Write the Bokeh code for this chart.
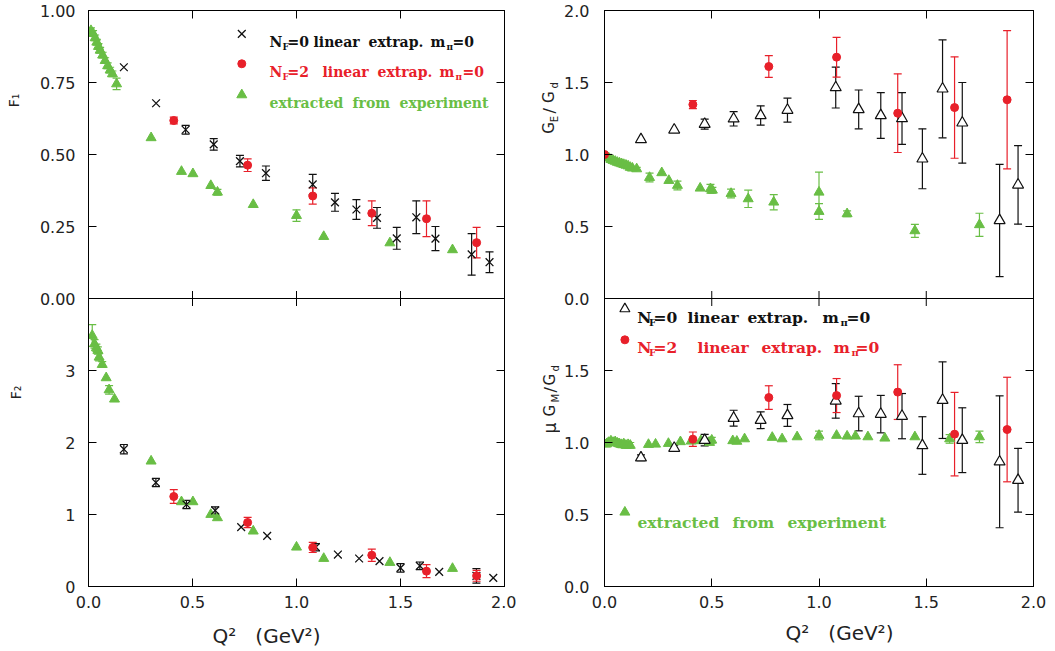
import math
from bokeh.plotting import figure
from bokeh.models import (Range1d, LinearAxis, FixedTicker, Whisker, TeeHead,
                          ColumnDataSource, Label, Span)
from bokeh.layouts import row, column
from bokeh.embed import file_html
from bokeh.resources import INLINE

# ---------------- data ----------------
xticks = [0.0, 0.5, 1.0, 1.5, 2.0]
xtick_labels = ["0.0", "0.5", "1.0", "1.5", "2.0"]
f1_ticks = [0.0, 0.25, 0.5, 0.75, 1.0]
f1_tick_labels = ["0.00", "0.25", "0.50", "0.75", "1.00"]
f2_ticks = [0, 1, 2, 3]
f2_tick_labels = ["0", "1", "2", "3"]
g_ticks = [0.0, 0.5, 1.0, 1.5, 2.0]
g_tick_labels = ["0.0", "0.5", "1.0", "1.5", "2.0"]

# N_F=0 linear extrapolation (lattice, quenched)
q2_nf0 = [0.170, 0.325, 0.467, 0.602, 0.728, 0.853, 1.078, 1.185, 1.288, 1.387, 1.482, 1.576, 1.668, 1.842, 1.928]
f1_nf0 = [0.803, 0.678, 0.586, 0.535, 0.477, 0.435, 0.396, 0.334, 0.309, 0.280, 0.209, 0.282, 0.208, 0.153, 0.126]
f1_nf0_err = [0.0, 0.0, 0.015, 0.02, 0.02, 0.025, 0.035, 0.031, 0.034, 0.036, 0.038, 0.057, 0.042, 0.072, 0.036]
q2_nf0_f2 = [0.170, 0.324, 0.471, 0.609, 0.734, 0.859, 1.093, 1.199, 1.301, 1.399, 1.500, 1.593, 1.686, 1.865, 1.946]
f2_nf0 = [1.907, 1.444, 1.139, 1.056, 0.824, 0.704, 0.546, 0.444, 0.389, 0.352, 0.259, 0.287, 0.204, 0.148, 0.120]
f2_nf0_err = [0.065, 0.058, 0.058, 0.05, 0.0, 0.0, 0.05, 0.0, 0.0, 0.0, 0.058, 0.053, 0.0, 0.1, 0.0]
ge_nf0 = [1.104, 1.171, 1.211, 1.248, 1.271, 1.308, 1.465, 1.313, 1.271, 1.250, 0.970, 1.456, 1.220, 0.542, 0.789]
ge_nf0_err = [0.0, 0.0, 0.035, 0.05, 0.067, 0.083, 0.142, 0.135, 0.159, 0.18, 0.208, 0.34, 0.28, 0.39, 0.273]
gm_nf0 = [0.894, 0.961, 1.016, 1.169, 1.155, 1.188, 1.289, 1.201, 1.197, 1.183, 0.979, 1.294, 1.016, 0.866, 0.738]
gm_nf0_err = [0.02, 0.02, 0.04, 0.055, 0.058, 0.076, 0.12, 0.12, 0.13, 0.157, 0.2, 0.266, 0.225, 0.458, 0.221]

# N_F=2 linear extrapolation (lattice, dynamical)
q2_nf2 = [0.410, 0.765, 1.078, 1.362, 1.625, 1.866]
f1_nf2 = [0.618, 0.463, 0.356, 0.296, 0.277, 0.194]
f1_nf2_err = [0.012, 0.022, 0.028, 0.043, 0.062, 0.053]
f2_nf2 = [1.250, 0.889, 0.542, 0.435, 0.213, 0.148]
f2_nf2_err = [0.095, 0.07, 0.07, 0.085, 0.09, 0.075]
q2_nf2_ge = [0.0, 0.412, 0.766, 1.082, 1.367, 1.632, 1.877]
ge_nf2 = [1.0, 1.347, 1.611, 1.676, 1.287, 1.326, 1.380]
ge_nf2_err = [0.0, 0.028, 0.076, 0.138, 0.273, 0.352, 0.48]
q2_nf2_gm = [0.412, 0.766, 1.082, 1.367, 1.632, 1.877]
gm_nf2 = [1.023, 1.312, 1.326, 1.350, 1.058, 1.090]
gm_nf2_err = [0.05, 0.082, 0.118, 0.19, 0.29, 0.363]

# extracted from experiment
q2_exp_f1 = [0.012, 0.022, 0.032, 0.040, 0.048, 0.056, 0.068, 0.080, 0.092, 0.104, 0.115, 0.135,
             0.301, 0.447, 0.502, 0.588, 0.620, 0.792, 1.0, 1.131, 1.449, 1.75]
f1_exp = [0.930, 0.920, 0.905, 0.890, 0.875, 0.862, 0.845, 0.826, 0.808, 0.793, 0.780, 0.745,
          0.558, 0.441, 0.433, 0.392, 0.369, 0.326, 0.288, 0.215, 0.193, 0.169]
f1_exp_err = [0.01, 0.01, 0.01, 0.01, 0.01, 0.01, 0.01, 0.01, 0.01, 0.01, 0.01, 0.02,
              0.0, 0.0, 0.0, 0.0, 0.01, 0.0, 0.02, 0.0, 0.0, 0.0]
q2_exp_f2 = [0.018, 0.029, 0.038, 0.045, 0.051, 0.066, 0.085, 0.099, 0.125,
             0.301, 0.447, 0.502, 0.588, 0.620, 0.792, 1.0, 1.131, 1.449, 1.75]
f2_exp = [3.486, 3.370, 3.315, 3.278, 3.185, 3.083, 2.898, 2.731, 2.602,
          1.741, 1.176, 1.176, 1.000, 0.954, 0.769, 0.546, 0.389, 0.333, 0.250]
f2_exp_err = [0.15, 0.06, 0.05, 0.05, 0.05, 0.04, 0.0, 0.06, 0.0,
              0.0, 0.0, 0.0, 0.0, 0.0, 0.0, 0.0, 0.0, 0.0, 0.0]
q2_exp_ge = [0.01, 0.02, 0.03, 0.04, 0.05, 0.06, 0.07, 0.08, 0.09, 0.10, 0.11, 0.12, 0.13, 0.15,
             0.21, 0.267, 0.30, 0.34, 0.446, 0.494, 0.503, 0.59, 0.67, 0.789, 1.0, 1.0, 1.131, 1.447, 1.748]
ge_exp = [0.985, 0.975, 0.965, 0.958, 0.952, 0.945, 0.940, 0.935, 0.930, 0.925, 0.920, 0.910, 0.905, 0.900,
          0.840, 0.873, 0.819, 0.785, 0.766, 0.762, 0.752, 0.729, 0.692, 0.669, 0.738, 0.604, 0.588, 0.470, 0.512]
ge_exp_err = [0.01, 0.01, 0.01, 0.01, 0.01, 0.01, 0.01, 0.01, 0.01, 0.01, 0.01, 0.01, 0.01, 0.01,
              0.03, 0.0, 0.0, 0.03, 0.0, 0.03, 0.02, 0.03, 0.06, 0.053, 0.14, 0.055, 0.02, 0.045, 0.08]
q2_exp_gm = [0.01, 0.02, 0.03, 0.04, 0.05, 0.06, 0.07, 0.08, 0.09, 0.10, 0.11, 0.12,
             0.205, 0.238, 0.298, 0.354, 0.404, 0.449, 0.49, 0.50, 0.598, 0.617, 0.653,
             0.782, 0.828, 0.898, 1.0, 1.082, 1.131, 1.17, 1.228, 1.307, 1.447, 1.609, 1.748]
gm_exp = [0.990, 1.000, 1.010, 1.000, 1.005, 0.995, 0.990, 0.985, 0.990, 0.980, 0.985, 0.980,
          0.986, 0.988, 0.993, 1.005, 1.009, 1.012, 1.000, 1.016, 1.012, 1.008, 1.025,
          1.035, 1.025, 1.039, 1.049, 1.049, 1.044, 1.044, 1.039, 1.030, 1.039, 1.025, 1.039]
gm_exp_err = [0.02, 0.02, 0.02, 0.02, 0.02, 0.02, 0.02, 0.02, 0.02, 0.02, 0.02, 0.02,
              0.0, 0.0, 0.0, 0.0, 0.0, 0.0, 0.0, 0.02, 0.0, 0.0, 0.0,
              0.0, 0.0, 0.0, 0.03, 0.0, 0.0, 0.0, 0.0, 0.0, 0.0, 0.03, 0.04]

# ---------------- style / layout ----------------
RED = "#E8202A"
GREEN = "#69BE45"
BLACK = "#111111"
TXT = "#222222"
FRAME_H = 576
TOP_B, BOT_B = 10, 30
ROW_H = TOP_B + FRAME_H + BOT_B      # 616
FRAME_BOTTOM = TOP_B + FRAME_H       # page y of the frames' bottom edge (586)
STRIP_H = 34


def panel_figure(frame_w, left_b, right_b, y_end, extra):
    p = figure(width=left_b + frame_w + right_b, height=ROW_H,
               x_range=Range1d(0, 2), y_range=Range1d(0, y_end),
               x_axis_location=None, y_axis_location=None,
               output_backend="svg", toolbar_location=None,
               min_border_left=left_b, min_border_right=right_b,
               min_border_top=TOP_B, min_border_bottom=BOT_B)
    p.extra_y_ranges = extra
    p.outline_line_color = "black"
    p.outline_line_width = 1
    p.grid.visible = False
    return p


def text_figure(w, h, top=0, bottom=0):
    f = figure(width=w, height=h, x_range=Range1d(0, 1), y_range=Range1d(0, 1),
               x_axis_location=None, y_axis_location=None,
               output_backend="svg", toolbar_location=None,
               min_border_left=0, min_border_right=0, min_border_top=top, min_border_bottom=bottom)
    f.outline_line_color = None
    f.grid.visible = False
    return f


def add_axes(p, ypos, ylabels, standoff):
    yt = FixedTicker(ticks=ypos)
    xt = FixedTicker(ticks=xticks)
    left = LinearAxis(ticker=yt, major_label_overrides=dict(zip(ypos, ylabels)))
    right = LinearAxis(ticker=yt)
    below = LinearAxis(ticker=xt, major_label_overrides=dict(zip(xticks, xtick_labels)))
    above = LinearAxis(ticker=xt)
    for ax in (left, right, below, above):
        ax.major_tick_in = 8
        ax.major_tick_out = 0
        ax.minor_tick_in = 0
        ax.minor_tick_out = 0
        ax.axis_line_color = "black"
        ax.major_tick_line_color = "black"
        ax.major_label_text_font = "DejaVu Sans"
        ax.major_label_text_font_size = "16px"
        ax.major_label_text_color = TXT
    for ax in (right, above):
        ax.major_label_text_font_size = "0px"
        ax.major_label_text_color = None
        ax.major_label_standoff = 0
    left.major_label_standoff = standoff
    below.major_label_standoff = 9
    p.add_layout(left, "left")
    p.add_layout(right, "right")
    p.add_layout(below, "below")
    p.add_layout(above, "above")


def boundary(p, yb):
    p.add_layout(Span(location=yb, dimension="width", line_color="black", line_width=1))
    inner = xticks[1:-1]
    p.scatter(x=inner, y=[yb] * len(inner), marker="dash", angle=math.pi / 2, size=15,
              line_color="black", line_width=1)


def errors(p, q, v, e, color, rng):
    xs, lo, hi = [], [], []
    for a, b, c in zip(q, v, e):
        if c > 0:
            xs.append(a); lo.append(b - c); hi.append(b + c)
    src = ColumnDataSource(dict(x=xs, lower=lo, upper=hi))
    w = Whisker(source=src, base="x", lower="lower", upper="upper", dimension="height",
                line_color=color, line_width=1.2, y_range_name=rng,
                upper_head=TeeHead(size=8, line_color=color, line_width=1.2),
                lower_head=TeeHead(size=8, line_color=color, line_width=1.2))
    p.add_layout(w)


def series(p, q, v, e, kind, rng):
    if kind == "exp":
        errors(p, q, v, e, GREEN, rng)
        p.scatter(q, v, marker="triangle", size=10, fill_color=GREEN, line_color=GREEN, y_range_name=rng)
    elif kind == "x":
        errors(p, q, v, e, BLACK, rng)
        p.scatter(q, v, marker="x", size=11, line_color=BLACK, line_width=1.3, y_range_name=rng)
    elif kind == "tri":
        errors(p, q, v, e, BLACK, rng)
        p.scatter(q, v, marker="triangle", size=11, fill_color="white", line_color=BLACK,
                  line_width=1.2, y_range_name=rng)
    else:
        errors(p, q, v, e, RED, rng)
        p.scatter(q, v, marker="circle", size=8, fill_color=RED, line_color=RED, y_range_name=rng)


def lab(p, text, sx, sy, size, color, font="DejaVu Serif", style="bold", angle=0.0,
        align="left", baseline="alphabetic"):
    p.add_layout(Label(x=sx, y=sy, x_units="screen", y_units="screen", text=text,
                       text_font=font, text_font_size=size, text_font_style=style,
                       text_color=color, angle=angle, text_align=align, text_baseline=baseline))


def rich(p, pieces, x0, sy, size, subsize, drop, color):
    for text, rx, sub in pieces:
        lab(p, text, rx - x0, sy - drop if sub else sy, subsize if sub else size, color)


# ---------------- left column: F1 (top), F2 (bottom) ----------------
pl = panel_figure(416, 52, 12, 2, {"f1": Range1d(-1, 1), "f2": Range1d(0, 8)})
add_axes(pl, [t / 4 for t in f2_ticks] + [1 + t for t in f1_ticks],
         f2_tick_labels + f1_tick_labels, 13)
boundary(pl, 1.0)

series(pl, q2_exp_f1, f1_exp, f1_exp_err, "exp", "f1")
series(pl, q2_nf0, f1_nf0, f1_nf0_err, "x", "f1")
series(pl, q2_nf2, f1_nf2, f1_nf2_err, "red", "f1")
series(pl, q2_exp_f2, f2_exp, f2_exp_err, "exp", "f2")
series(pl, q2_nf0_f2, f2_nf0, f2_nf0_err, "x", "f2")
series(pl, q2_nf2, f2_nf2, f2_nf2_err, "red", "f2")

# legend (top-left panel)
pl.scatter([0.737], [1.919], marker="x", size=11, line_color=BLACK, line_width=1.3)
pl.scatter([0.737], [1.815], marker="circle", size=8, fill_color=RED, line_color=RED)
pl.scatter([0.737], [1.707], marker="triangle", size=10, fill_color=GREEN, line_color=GREEN)
rich(pl, [("N", 269, 0), ("F", 282, 1), ("=0", 287, 0), ("linear", 313, 0), ("extrap.", 368, 0),
          ("m", 430, 0), ("π", 446, 1), ("=0", 452, 0)], 88, 544.3, "14px", "9px", 5, BLACK)
rich(pl, [("N", 269, 0), ("F", 282, 1), ("=2", 287, 0), ("linear", 322, 0), ("extrap.", 377, 0),
          ("m", 439, 0), ("π", 455, 1), ("=0", 462, 0)], 88, 514.3, "14px", "9px", 5, RED)
rich(pl, [("extracted", 269, 0), ("from", 352, 0), ("experiment", 399, 0)], 88, 483.3,
     "14px", "9px", 5, GREEN)

# ---------------- right column: GE/Gd (top), mu GM/Gd (bottom) ----------------
pr = panel_figure(429, 44, 16, 4, {"ge": Range1d(-2, 2), "gm": Range1d(0, 4)})
add_axes(pr, [t for t in g_ticks if t < 2] + [2 + t for t in g_ticks],
         [l for t, l in zip(g_ticks, g_tick_labels) if t < 2] + g_tick_labels, 15)
boundary(pr, 2.0)

series(pr, q2_exp_ge, ge_exp, ge_exp_err, "exp", "ge")
series(pr, q2_nf0, ge_nf0, ge_nf0_err, "tri", "ge")
series(pr, q2_nf2_ge, ge_nf2, ge_nf2_err, "red", "ge")
series(pr, q2_exp_gm, gm_exp, gm_exp_err, "exp", "gm")
series(pr, q2_nf0, gm_nf0, gm_nf0_err, "tri", "gm")
series(pr, q2_nf2_gm, gm_nf2, gm_nf2_err, "red", "gm")

# legend (bottom-right panel)
pr.scatter([0.095], [1.928], marker="triangle", size=10, fill_color="white", line_color=BLACK, line_width=1.2)
pr.scatter([0.095], [1.713], marker="circle", size=8, fill_color=RED, line_color=RED)
pr.scatter([0.095], [0.516], marker="triangle", size=10, fill_color=GREEN, line_color=GREEN)
rich(pr, [("N", 636.7, 0), ("F", 648.5, 1), ("=0", 653, 0), ("linear", 687, 0), ("extrap.", 747, 0),
          ("m", 822, 0), ("π", 840, 1), ("=0", 846, 0)], 604, 269.3, "15.5px", "10px", 5, BLACK)
rich(pr, [("N", 636.7, 0), ("F", 648.5, 1), ("=2", 653, 0), ("linear", 697, 0), ("extrap.", 761, 0),
          ("m", 833, 0), ("π", 851, 1), ("=0", 855, 0)], 604, 238.7, "15.5px", "10px", 5, RED)
rich(pr, [("extracted", 637, 0), ("from", 732, 0), ("experiment", 787, 0)], 604, 64.3,
     "15.5px", "10px", 5, GREEN)

# ---------------- axis titles (in narrow text-only figures) ----------------
R90 = math.pi / 2
tl = text_figure(36, ROW_H, TOP_B, BOT_B)          # page x 0..36
lab(tl, "F₁", 13, FRAME_BOTTOM - 100, "14px", TXT, font="DejaVu Sans", style="normal",
    angle=R90, align="center", baseline="middle")
lab(tl, "F₂", 15, FRAME_BOTTOM - 392, "14px", TXT, font="DejaVu Sans", style="normal",
    angle=R90, align="center", baseline="middle")

tm = text_figure(44, ROW_H, TOP_B, BOT_B)          # page x 516..560
X0 = 516
for text, y, sub, size in [("G", 133.3, 0, "15px"), ("E", 121.7, 1, "10px"), ("/", 113.0, 0, "16px"),
                           ("G", 102.5, 0, "15px"), ("d", 88.0, 1, "10px")]:
    lab(tm, text, 548.5 - X0 + (5 if sub else 0), FRAME_BOTTOM - y, size, TXT,
        font="DejaVu Sans", style="normal", angle=R90)
for text, y, sub, size in [("μ", 433.0, 0, "17px"), ("G", 416.0, 0, "15px"), ("M", 402.0, 1, "10px"),
                           ("/", 392.0, 0, "16px"), ("G", 385.0, 0, "15px"), ("d", 371.0, 1, "10px")]:
    lab(tm, text, 549.5 - X0 + (5 if sub else 0), FRAME_BOTTOM - y, size, TXT,
        font="DejaVu Sans", style="normal", angle=R90)

STRIP_TOP = ROW_H
strip = text_figure(36 + 480 + 44 + 489, STRIP_H)   # page y 616..650
SB = STRIP_TOP + STRIP_H
lab(strip, "Q²\u00a0\u00a0\u00a0(GeV²)", 212, SB - 635, "20px", TXT, font="DejaVu Sans", style="normal")
lab(strip, "Q²\u00a0\u00a0\u00a0(GeV²)", 785, SB - 632, "20px", TXT, font="DejaVu Sans", style="normal")

layout = column(row(tl, pl, tm, pr), strip)
open("out.html", "w").write(file_html(layout, INLINE))
